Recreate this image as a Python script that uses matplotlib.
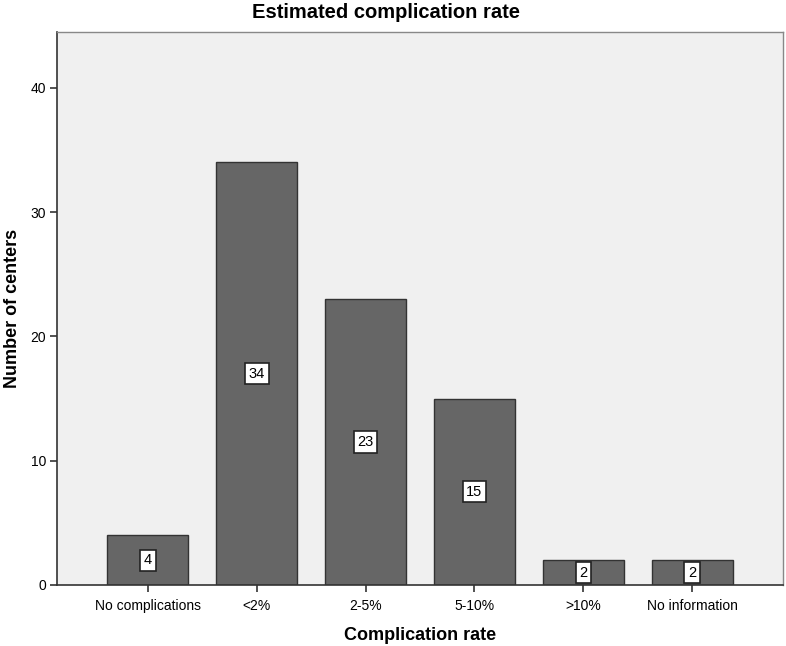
import matplotlib
matplotlib.use("Agg")
import matplotlib.pyplot as plt

categories = ["No complications", "<2%", "2-5%", "5-10%", ">10%", "No information"]
counts = [4, 34, 23, 15, 2, 2]
yticks = [0, 10, 20, 30, 40]

plt.rcParams['font.family'] = ['Liberation Sans', 'DejaVu Sans']

fig = plt.figure(figsize=(7.86, 6.46), dpi=100)
ax = fig.add_axes([57/786, 1 - 585/646, (783 - 57)/786, (585 - 32)/646])
ax.set_facecolor("#F0F0F0")

x = list(range(len(categories)))
ax.bar(x, counts, width=0.745, color="#666666", edgecolor="#333333", linewidth=1.0, zorder=2)
for xi, c in zip(x, counts):
    ax.text(xi, c / 2, str(c), ha="center", va="center", fontsize=10.5, color="black", zorder=3,
            bbox=dict(boxstyle="square,pad=0.25", facecolor="white", edgecolor="#222222", linewidth=1.2))

ax.set_xlim(-0.835, 5.835)
ax.set_ylim(0, 44.5)
ax.set_xticks(x)
ax.set_xticklabels(categories, fontsize=10)
ax.set_yticks(yticks)
ax.set_yticklabels([str(t) for t in yticks], fontsize=10)
ax.tick_params(axis="both", length=5, width=1.2, color="#333333", pad=3)
ax.tick_params(axis="x", pad=5)

for s in ["left", "bottom"]:
    ax.spines[s].set_color("#333333")
    ax.spines[s].set_linewidth(1.2)
for s in ["top", "right"]:
    ax.spines[s].set_color("#888888")
    ax.spines[s].set_linewidth(1.0)

ax.set_xlabel("Complication rate", fontsize=13, fontweight="bold", labelpad=10)
ax.set_ylabel("Number of centers", fontsize=13, fontweight="bold", labelpad=7)
fig.text(386/786, 1 - 12/646, "Estimated complication rate", ha="center", va="center",
         fontsize=14.5, fontweight="bold")

fig.savefig("out.png", dpi=100)
